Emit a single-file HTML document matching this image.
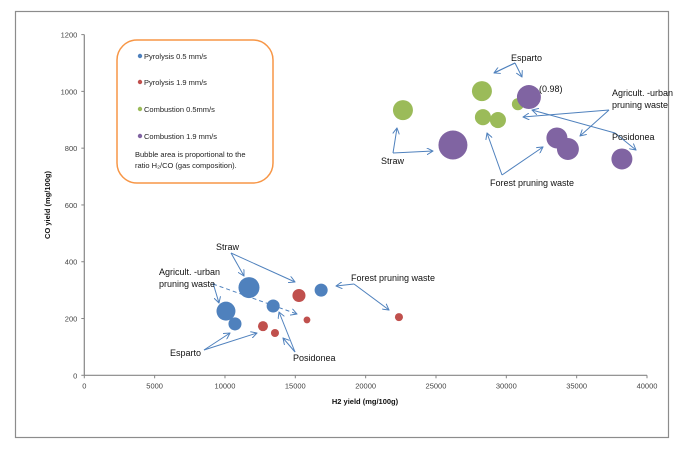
<!DOCTYPE html>
<html><head><meta charset="utf-8"><style>
html,body{margin:0;padding:0;background:#fff;}
svg{display:block;font-family:"Liberation Sans",Arial,sans-serif;}
</style></head><body>
<svg id="chart" width="681" height="450" viewBox="0 0 681 450">
<defs>
<marker id="ah" viewBox="0 0 10 10" refX="9" refY="5" markerWidth="7" markerHeight="7" orient="auto-start-reverse"><path d="M0,0 L9,5 L0,10" fill="none" stroke="#4f81bd" stroke-width="1.4"/></marker>
</defs>
<rect x="15.5" y="11.5" width="653" height="426" fill="#fff" stroke="#8c8c8c" stroke-width="1.2"/>
<g id="axes"></g>
<g id="bubbles"></g>
<g id="annotations" fill="none" stroke="#4f81bd" stroke-width="1" font-size="9">
 <path d="M515,63 L494,73 M515,63 L522,77" marker-end="url(#ah)"/>
 <path d="M515,63 L494,73" marker-end="url(#ah)"/>
 <path d="M609,110 L580,136" marker-end="url(#ah)"/>
 <path d="M609,110 L523,117" marker-end="url(#ah)"/>
 <path d="M615,133 L532,110" marker-end="url(#ah)"/>
 <path d="M615,133 L636,150" marker-end="url(#ah)"/>
 <path d="M393,153 L397,128" marker-end="url(#ah)"/>
 <path d="M393,153 L433,151" marker-end="url(#ah)"/>
 <path d="M502,175 L487,133" marker-end="url(#ah)"/>
 <path d="M502,175 L543,147" marker-end="url(#ah)"/>
 <path d="M231,253 L244,276" marker-end="url(#ah)"/>
 <path d="M231,253 L295,282" marker-end="url(#ah)"/>
 <path d="M213,283 L219,303" marker-end="url(#ah)"/>
 <path d="M213,284 L297,314" stroke-dasharray="4,3" marker-end="url(#ah)"/>
 <path d="M204,350 L230,333" marker-end="url(#ah)"/>
 <path d="M204,350 L257,333" marker-end="url(#ah)"/>
 <path d="M295,352 L283,338" marker-end="url(#ah)"/>
 <path d="M295,352 L279,312" marker-end="url(#ah)"/>
 <path d="M354,284 L336,286" marker-end="url(#ah)"/>
 <path d="M354,284 L389,310" marker-end="url(#ah)"/>
</g>
<g font-size="9" fill="#111">
 <text x="511" y="61">Esparto</text>
 <text x="539" y="92">(0.98)</text>
 <text x="612" y="96">Agricult. -urban</text>
 <text x="612" y="108">pruning waste</text>
 <text x="612" y="140">Posidonea</text>
 <text x="381" y="164">Straw</text>
 <text x="490" y="186">Forest pruning waste</text>
 <text x="216" y="250">Straw</text>
 <text x="159" y="275">Agricult. -urban</text>
 <text x="159" y="287">pruning waste</text>
 <text x="170" y="356">Esparto</text>
 <text x="293" y="361">Posidonea</text>
 <text x="351" y="281">Forest pruning waste</text>
</g>
<g>
 <rect x="117" y="40" width="156" height="143" rx="20" fill="#fff" stroke="#f79646" stroke-width="1.5"/>
 <g font-size="7.5" fill="#222">
  <circle cx="140" cy="56" r="2.2" fill="#4f81bd"/><text x="144" y="59">Pyrolysis 0.5 mm/s</text>
  <circle cx="140" cy="82" r="2.2" fill="#c0504d"/><text x="144" y="85">Pyrolysis 1.9 mm/s</text>
  <circle cx="140" cy="109" r="2.2" fill="#9bbb59"/><text x="144" y="112">Combustion 0.5mm/s</text>
  <circle cx="140" cy="136" r="2.2" fill="#8064a2"/><text x="144" y="139">Combustion 1.9 mm/s</text>
  <text x="135" y="157">Bubble area is proportional to the</text>
  <text x="135" y="168">ratio H₂/CO (gas composition).</text>
 </g>
</g>
</svg>
<script>
const xTicks=[0,5000,10000,15000,20000,25000,30000,35000,40000];
const yTicks=[0,200,400,600,800,1000,1200];
const seriesNames=["Pyrolysis 0.5 mm/s","Pyrolysis 1.9 mm/s","Combustion 0.5mm/s","Combustion 1.9 mm/s"];
const seriesColors=["#4f81bd","#c0504d","#9bbb59","#8064a2"];
const pyr05X=[11706,10071,10711,13425,16836];
const pyr05Y=[309,226,181,244,300];
const pyr05R=[0.75,0.61,0.29,0.29,0.29];
const pyr19X=[15259,12701,13554,15828,22367];
const pyr19Y=[281,173,149,195,205];
const pyr19R=[0.29,0.17,0.11,0.08,0.11];
const com05X=[22651,28266,28337,29403,30825];
const com05Y=[934,1001,909,899,955];
const com05R=[0.68,0.68,0.44,0.44,0.25];
const com19X=[26205,31606,33596,34378,38216];
const com19Y=[811,980,836,797,762];
const com19R=[1.43,0.98,0.75,0.82,0.75];

const NS="http://www.w3.org/2000/svg";
const X0=84.3,X1=647,Y0=375.3,Y1=34.6;
function sx(v){return X0+(v-0)/(40000)*(X1-X0);}
function sy(v){return Y0-(v/1200)*(Y0-Y1);}
function sr(r){return 12*Math.sqrt(r/0.98);}
function mk(t,a,p){const e=document.createElementNS(NS,t);for(const k in a)e.setAttribute(k,a[k]);p.appendChild(e);return e;}
const axes=document.getElementById('axes');
const xa=mk('line',{x1:X0,y1:Y0,x2:X1,y2:Y0,stroke:'#868686','stroke-width':1.2},axes);


const ya=mk('line',{x1:X0,y1:Y0,x2:X0,y2:Y1,stroke:'#868686','stroke-width':1.2},axes);


xTicks.forEach(v=>{
 mk('line',{x1:sx(v),y1:Y0,x2:sx(v),y2:Y0+3,stroke:'#868686'},axes);
 const t=mk('text',{x:sx(v),y:Y0+13,'font-size':7.5,fill:'#444','text-anchor':'middle'},axes);
 t.textContent=v;
 
 
});
yTicks.forEach(v=>{
 mk('line',{x1:X0-3,y1:sy(v),x2:X0,y2:sy(v),stroke:'#868686'},axes);
 const t=mk('text',{x:X0-7,y:sy(v)+3,'font-size':7.5,fill:'#444','text-anchor':'end'},axes);
 t.textContent=v;
 
 
});
const xt=mk('text',{x:365,y:404,'font-size':7.5,'font-weight':'bold','text-anchor':'middle',fill:'#111'},axes);
xt.textContent='H2 yield (mg/100g)';


const yt=mk('text',{x:0,y:0,'font-size':7.5,'font-weight':'bold','text-anchor':'middle',fill:'#111',transform:'translate(50,205) rotate(-90)'},axes);
yt.textContent='CO yield (mg/100g)';


const g=document.getElementById('bubbles');
const all=[[pyr05X,pyr05Y,pyr05R],[pyr19X,pyr19Y,pyr19R],[com05X,com05Y,com05R],[com19X,com19Y,com19R]];
all.forEach((s,i)=>{
 s[0].forEach((xv,j)=>{
  const c=mk('circle',{cx:sx(xv),cy:sy(s[1][j]),r:sr(s[2][j]),fill:seriesColors[i]},g);
  
  
 });
});
</script>
</body></html>
